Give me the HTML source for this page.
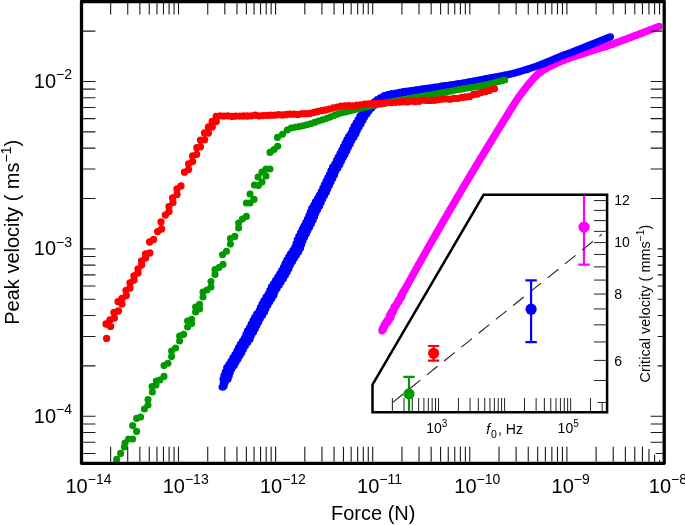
<!DOCTYPE html>
<html><head><meta charset="utf-8"><title>Peak velocity vs force</title>
<style>html,body{margin:0;padding:0;background:#fff;width:685px;height:525px;overflow:hidden}</style></head>
<body>
<svg width="685" height="525" viewBox="0 0 685 525" style="display:block;position:absolute;left:0;top:0" font-family="'Liberation Sans', Arial, Helvetica, sans-serif" fill="#000">
<rect width="685" height="525" fill="#fff"/>
<clipPath id="c"><rect x="81.5" y="1.5" width="582.7" height="461.8"/></clipPath>
<g clip-path="url(#c)">
<path d="M381.9 330.8h0M382.0 329.9h0M383.3 329.7h0M382.6 328.5h0M383.9 328.2h0M383.9 327.3h0M383.7 326.3h0M384.9 326.1h0M384.4 324.9h0M385.5 324.6h0M385.2 323.5h0M385.6 322.8h0M386.7 322.5h0M387.8 322.2h0M386.8 320.8h0M387.4 320.1h0M388.6 319.8h0M389.6 319.5h0M389.2 318.4h0M389.3 317.5h0M390.8 317.4h0M389.3 315.7h0M391.3 315.9h0M390.6 314.6h0M390.7 313.7h0M391.0 313.0h0M391.8 312.5h0M393.1 312.3h0M392.3 311.0h0M393.4 310.7h0M393.9 310.0h0M393.8 309.0h0M394.5 308.5h0M393.9 307.3h0M394.3 306.6h0M395.0 306.1h0M396.3 305.8h0M396.2 304.9h0M396.3 304.1h0M397.3 303.6h0M397.4 302.8h0M397.5 301.9h0M398.8 301.7h0M399.0 300.9h0M398.5 299.8h0M399.5 299.4h0M399.8 298.7h0M400.8 298.3h0M400.9 297.4h0M400.6 296.4h0M402.0 296.2h0M401.2 294.9h0M402.0 294.4h0M402.8 293.9h0M402.5 292.8h0M403.2 292.3h0M403.2 291.4h0M404.2 291.0h0M404.6 290.3h0M404.8 289.5h0M405.4 288.9h0M405.5 288.1h0M406.0 287.4h0M406.4 286.7h0M406.7 286.0h0M407.1 285.3h0M407.5 284.6h0M407.9 283.9h0M408.3 283.2h0M408.7 282.5h0M409.1 281.8h0M409.4 281.1h0M409.8 280.4h0M410.2 279.7h0M410.6 279.0h0M411.0 278.3h0M411.4 277.6h0M411.8 276.9h0M412.2 276.2h0M412.5 275.5h0M412.9 274.8h0M413.3 274.1h0M413.7 273.4h0M414.1 272.7h0M414.5 272.0h0M414.9 271.3h0M415.3 270.6h0M415.7 269.9h0M416.1 269.2h0M416.4 268.5h0M416.8 267.8h0M417.2 267.1h0M417.6 266.4h0M418.0 265.7h0M418.4 265.0h0M418.8 264.3h0M419.2 263.7h0M419.6 263.0h0M420.0 262.3h0M420.4 261.6h0M420.8 260.9h0M421.2 260.2h0M421.5 259.5h0M421.9 258.8h0M422.3 258.1h0M422.7 257.4h0M423.1 256.7h0M423.5 256.0h0M423.9 255.3h0M424.3 254.6h0M424.7 253.9h0M425.1 253.2h0M425.5 252.5h0M425.9 251.8h0M426.3 251.1h0M426.7 250.4h0M427.1 249.7h0M427.5 249.0h0M427.8 248.3h0M428.2 247.6h0M428.6 246.9h0M429.0 246.2h0M429.4 245.5h0M429.8 244.9h0M430.2 244.2h0M430.6 243.5h0M431.0 242.8h0M431.4 242.1h0M431.8 241.4h0M432.2 240.7h0M432.6 240.0h0M433.0 239.3h0M433.4 238.6h0M433.8 237.9h0M434.2 237.2h0M434.6 236.5h0M435.0 235.8h0M435.4 235.1h0M435.8 234.4h0M436.2 233.7h0M436.6 233.0h0M437.0 232.4h0M437.4 231.7h0M437.8 231.0h0M438.2 230.3h0M438.6 229.6h0M439.0 228.9h0M439.4 228.2h0M439.8 227.5h0M440.2 226.8h0M440.6 226.1h0M441.0 225.4h0M441.4 224.7h0M441.8 224.0h0M442.2 223.3h0M442.6 222.7h0M443.0 222.0h0M443.4 221.3h0M443.8 220.6h0M444.2 219.9h0M444.6 219.2h0M445.0 218.5h0M445.4 217.8h0M445.8 217.1h0M446.2 216.4h0M446.6 215.7h0M447.0 215.0h0M447.4 214.4h0M447.8 213.7h0M448.2 213.0h0M448.6 212.3h0M449.0 211.6h0M449.4 210.9h0M449.8 210.2h0M450.2 209.5h0M450.6 208.8h0M451.0 208.1h0M451.4 207.4h0M451.8 206.8h0M452.2 206.1h0M452.7 205.4h0M453.1 204.7h0M453.5 204.0h0M453.9 203.3h0M454.3 202.6h0M454.7 201.9h0M455.1 201.2h0M455.5 200.5h0M455.9 199.9h0M456.3 199.2h0M456.7 198.5h0M457.1 197.8h0M457.5 197.1h0M457.9 196.4h0M458.3 195.7h0M458.7 195.0h0M459.1 194.3h0M459.6 193.7h0M460.0 193.0h0M460.4 192.3h0M460.8 191.6h0M461.2 190.9h0M461.6 190.2h0M462.0 189.5h0M462.4 188.8h0M462.8 188.1h0M463.2 187.5h0M463.6 186.8h0M464.0 186.1h0M464.4 185.4h0M464.9 184.7h0M465.3 184.0h0M465.7 183.3h0M466.1 182.6h0M466.5 182.0h0M466.9 181.3h0M467.3 180.6h0M467.7 179.9h0M468.1 179.2h0M468.5 178.5h0M469.0 177.8h0M469.4 177.2h0M469.8 176.5h0M470.2 175.8h0M470.6 175.1h0M471.0 174.4h0M471.4 173.7h0M471.8 173.0h0M472.2 172.3h0M472.7 171.7h0M473.1 171.0h0M473.5 170.3h0M473.9 169.6h0M474.3 168.9h0M474.7 168.2h0M475.1 167.5h0M475.5 166.9h0M476.0 166.2h0M476.4 165.5h0M476.8 164.8h0M477.2 164.1h0M477.6 163.4h0M478.0 162.8h0M478.4 162.1h0M478.8 161.4h0M479.3 160.7h0M479.7 160.0h0M480.1 159.3h0M480.5 158.6h0M480.9 158.0h0M481.3 157.3h0M481.7 156.6h0M482.2 155.9h0M482.6 155.2h0M483.0 154.5h0M483.4 153.9h0M483.8 153.2h0M484.2 152.5h0M484.7 151.8h0M485.1 151.1h0M485.5 150.4h0M485.9 149.8h0M486.3 149.1h0M486.7 148.4h0M487.2 147.7h0M487.6 147.0h0M488.0 146.3h0M488.4 145.7h0M488.8 145.0h0M489.2 144.3h0M489.7 143.6h0M490.1 142.9h0M490.5 142.3h0M490.9 141.6h0M491.3 140.9h0M491.7 140.2h0M492.2 139.5h0M492.6 138.8h0M493.0 138.2h0M493.4 137.5h0M493.8 136.8h0M494.3 136.1h0M494.7 135.4h0M495.1 134.8h0M495.5 134.1h0M495.9 133.4h0M496.4 132.7h0M496.8 132.0h0M497.2 131.3h0M497.6 130.7h0M498.0 130.0h0M498.5 129.3h0M498.9 128.6h0M499.3 127.9h0M499.7 127.3h0M500.1 126.6h0M500.6 125.9h0M501.0 125.2h0M501.4 124.5h0M501.8 123.9h0M502.3 123.2h0M502.7 122.5h0M503.1 121.8h0M503.5 121.1h0M503.9 120.5h0M504.4 119.8h0M504.8 119.1h0M505.2 118.4h0M505.6 117.7h0M506.1 117.1h0M506.5 116.4h0M506.9 115.7h0M507.3 115.0h0M507.7 114.4h0M508.2 113.7h0M508.6 113.0h0M509.0 112.3h0M509.4 111.6h0M509.9 111.0h0M510.3 110.3h0M510.7 109.6h0M511.1 108.9h0M511.6 108.3h0M512.0 107.6h0M512.4 106.9h0M512.8 106.2h0M513.3 105.5h0M513.7 104.9h0M514.1 104.2h0M514.5 103.5h0M515.0 102.8h0M515.4 102.2h0M515.8 101.5h0M516.2 100.8h0M516.7 100.1h0M517.1 99.4h0M517.5 98.8h0M518.0 98.1h0M518.5 97.5h0M519.0 96.8h0M519.4 96.2h0M519.9 95.5h0M520.4 94.9h0M520.9 94.3h0M521.3 93.6h0M521.8 93.0h0M522.3 92.4h0M522.8 91.7h0M523.3 91.1h0M523.7 90.4h0M524.2 89.8h0M524.7 89.2h0M525.2 88.5h0M525.7 87.9h0M526.2 87.2h0M526.6 86.6h0M527.1 86.0h0M527.6 85.4h0M528.1 84.7h0M528.7 84.1h0M529.2 83.5h0M529.7 82.9h0M530.2 82.3h0M530.7 81.7h0M531.2 81.1h0M531.8 80.5h0M532.3 79.9h0M532.8 79.3h0M533.3 78.7h0M533.9 78.1h0M534.5 77.5h0M535.0 77.0h0M535.6 76.4h0M536.2 75.8h0M536.7 75.2h0M537.3 74.7h0M537.8 74.1h0M538.4 73.6h0M539.1 73.1h0M539.7 72.6h0M540.4 72.2h0M541.0 71.7h0M541.7 71.3h0M542.3 70.8h0M543.0 70.3h0M543.7 69.9h0M544.4 69.5h0M545.1 69.1h0M545.8 68.7h0M546.5 68.3h0M547.1 67.9h0M547.8 67.5h0M548.6 67.2h0M549.3 66.8h0M550.0 66.5h0M550.7 66.1h0M551.4 65.7h0M552.1 65.4h0M552.9 65.0h0M553.6 64.7h0M554.3 64.3h0M555.0 63.9h0M555.7 63.6h0M556.4 63.2h0M557.2 62.9h0M557.9 62.6h0M558.7 62.3h0M559.4 62.0h0M560.1 61.7h0M560.9 61.4h0M561.6 61.1h0M562.4 60.8h0M563.1 60.5h0M563.8 60.2h0M564.6 59.9h0M565.3 59.6h0M566.1 59.3h0M566.8 59.0h0M567.5 58.7h0M568.3 58.4h0M569.0 58.1h0M569.8 57.9h0M570.6 57.6h0M571.3 57.4h0M572.1 57.1h0M572.8 56.9h0M573.6 56.7h0M574.4 56.4h0M575.1 56.2h0M575.9 55.9h0M576.7 55.7h0M577.4 55.4h0M578.2 55.2h0M578.9 54.9h0M579.7 54.7h0M580.5 54.5h0M581.2 54.2h0M582.0 54.0h0M582.7 53.7h0M583.5 53.5h0M584.3 53.2h0M585.0 53.0h0M585.8 52.7h0M586.6 52.5h0M587.3 52.3h0M588.1 52.0h0M588.8 51.8h0M589.6 51.5h0M590.4 51.3h0M591.1 51.0h0M591.9 50.8h0M592.7 50.6h0M593.4 50.3h0M594.2 50.1h0M594.9 49.8h0M595.7 49.6h0M596.5 49.3h0M597.2 49.1h0M598.0 48.9h0M598.8 48.6h0M599.5 48.4h0M600.3 48.1h0M601.0 47.9h0M601.8 47.6h0M602.6 47.4h0M603.3 47.2h0M604.1 46.9h0M604.8 46.7h0M605.6 46.4h0M606.4 46.2h0M607.1 45.9h0M607.9 45.7h0M608.7 45.5h0M609.4 45.2h0M610.2 45.0h0M610.9 44.7h0M611.7 44.4h0M612.4 44.1h0M613.2 43.9h0M613.9 43.6h0M614.7 43.3h0M615.4 43.0h0M616.2 42.8h0M616.9 42.5h0M617.7 42.2h0M618.4 41.9h0M619.2 41.7h0M619.9 41.4h0M620.7 41.1h0M621.4 40.8h0M622.2 40.5h0M622.9 40.3h0M623.7 40.0h0M624.4 39.7h0M625.2 39.4h0M625.9 39.2h0M626.7 38.9h0M627.4 38.6h0M628.2 38.3h0M628.9 38.0h0M629.7 37.7h0M630.4 37.5h0M631.2 37.2h0M631.9 36.9h0M632.7 36.6h0M633.4 36.3h0M634.2 36.0h0M634.9 35.7h0M635.7 35.5h0M636.4 35.2h0M637.2 34.9h0M637.9 34.6h0M638.6 34.3h0M639.4 34.0h0M640.1 33.7h0M640.9 33.4h0M641.6 33.2h0M642.4 32.9h0M643.1 32.6h0M643.9 32.3h0M644.6 32.0h0M645.4 31.7h0M646.1 31.4h0M646.9 31.1h0M647.6 30.9h0M648.4 30.6h0M649.1 30.3h0M649.8 30.0h0M650.6 29.7h0M651.3 29.4h0M652.1 29.1h0M652.8 28.9h0M653.6 28.6h0M654.3 28.3h0M655.1 28.0h0M655.8 27.7h0M656.6 27.4h0M657.3 27.1h0M658.1 26.9h0M658.8 26.6h0M659.0 26.5h0" stroke="#ff00ff" stroke-width="7.30" stroke-linecap="round" fill="none"/>
<path d="M222.1 387.0h0M223.3 386.8h0M222.9 386.1h0M224.1 385.9h0M223.5 385.2h0M223.2 384.5h0M224.4 384.3h0M223.3 383.3h0M224.5 383.2h0M224.1 382.5h0M225.3 382.3h0M224.7 381.5h0M224.4 380.8h0M225.6 380.6h0M223.0 379.2h0M226.3 379.7h0M224.7 378.6h0M228.1 379.1h0M225.8 377.8h0M224.3 376.7h0M227.9 377.3h0M224.0 375.5h0M227.4 376.0h0M225.9 374.9h0M229.3 375.5h0M227.2 374.2h0M225.7 373.1h0M229.2 373.7h0M225.3 371.8h0M228.6 372.4h0M227.1 371.3h0M230.3 372.2h0M228.3 370.5h0M226.9 369.1h0M230.2 370.3h0M226.7 367.7h0M229.8 368.8h0M228.6 367.5h0M231.9 368.7h0M230.0 367.1h0M228.8 365.8h0M232.2 367.0h0M228.8 364.5h0M232.1 365.7h0M230.9 364.4h0M234.2 365.6h0M232.3 363.9h0M231.0 362.6h0M234.3 363.8h0M230.9 361.3h0M234.1 362.4h0M232.8 361.1h0M236.0 362.2h0M234.1 360.5h0M232.8 359.2h0M236.2 360.4h0M232.8 357.9h0M236.0 359.1h0M234.8 357.7h0M238.0 358.9h0M236.1 357.2h0M234.9 355.9h0M238.3 357.2h0M234.9 354.7h0M238.1 355.8h0M236.8 354.5h0M240.0 355.6h0M238.1 353.9h0M236.8 352.5h0M240.1 353.9h0M236.8 351.2h0M239.9 352.5h0M238.7 351.1h0M241.8 352.4h0M239.9 350.6h0M238.7 349.1h0M241.9 350.5h0M238.5 347.7h0M241.6 349.0h0M240.4 347.6h0M243.5 348.9h0M241.6 347.1h0M240.4 345.6h0M243.6 347.0h0M240.3 344.3h0M243.5 345.7h0M242.3 344.3h0M245.5 345.6h0M243.7 343.8h0M242.5 342.4h0M245.8 343.8h0M242.5 341.1h0M245.7 342.5h0M244.5 341.1h0M247.7 342.5h0M245.9 340.7h0M244.7 339.3h0M248.3 340.7h0M244.4 338.0h0M248.0 339.3h0M246.5 337.9h0M250.1 339.2h0M247.8 337.3h0M246.2 335.9h0M249.9 337.2h0M245.9 334.4h0M249.4 335.7h0M247.8 334.2h0M251.4 335.5h0M249.1 333.6h0M247.6 332.2h0M251.4 333.6h0M247.5 330.9h0M251.2 332.3h0M249.8 330.9h0M253.4 332.2h0M251.2 330.4h0M249.8 329.0h0M253.6 330.4h0M249.6 327.7h0M253.2 329.0h0M251.7 327.6h0M255.3 328.8h0M253.0 327.0h0M251.5 325.6h0M255.2 326.9h0M251.2 324.2h0M254.8 325.5h0M253.3 324.0h0M256.9 325.3h0M254.7 323.5h0M253.2 322.1h0M256.9 323.5h0M253.0 320.7h0M256.5 322.0h0M255.1 320.6h0M258.7 321.9h0M256.4 320.1h0M255.0 318.7h0M258.7 320.1h0M254.7 317.3h0M258.3 318.6h0M256.9 317.2h0M260.4 318.5h0M258.2 316.7h0M256.7 315.3h0M260.5 316.7h0M256.7 314.0h0M260.3 315.3h0M258.9 314.0h0M262.6 315.3h0M260.5 313.6h0M259.1 312.2h0M262.9 313.6h0M259.1 310.9h0M262.7 312.2h0M261.1 310.8h0M264.6 312.0h0M262.3 310.2h0M260.8 308.7h0M264.4 310.1h0M260.4 307.3h0M264.0 308.5h0M262.4 307.1h0M266.0 308.4h0M263.8 306.6h0M262.3 305.2h0M266.0 306.5h0M262.1 303.8h0M265.7 305.1h0M264.3 303.7h0M267.9 305.0h0M265.7 303.2h0M264.2 301.8h0M268.0 303.2h0M264.0 300.5h0M267.7 301.8h0M266.2 300.4h0M269.8 301.7h0M267.6 299.9h0M266.2 298.5h0M269.9 299.9h0M266.0 297.2h0M269.6 298.5h0M268.2 297.1h0M271.9 298.4h0M269.7 296.7h0M268.3 295.3h0M272.1 296.7h0M268.2 294.0h0M271.9 295.3h0M270.4 293.9h0M273.9 295.2h0M271.6 293.3h0M270.1 291.8h0M273.7 293.2h0M269.8 290.4h0M273.2 291.7h0M271.7 290.2h0M275.2 291.5h0M272.9 289.6h0M271.5 288.2h0M275.2 289.7h0M271.4 286.9h0M275.0 288.3h0M273.6 286.9h0M277.2 288.3h0M275.1 286.4h0M273.7 285.0h0M277.4 286.5h0M273.6 283.7h0M277.2 285.1h0M275.7 283.6h0M279.3 285.0h0M277.2 283.2h0M275.7 281.7h0M279.4 283.2h0M275.6 280.4h0M279.1 281.8h0M277.7 280.3h0M281.3 281.8h0M279.2 279.9h0M277.8 278.5h0M281.5 280.0h0M277.7 277.2h0M281.3 278.6h0M279.9 277.1h0M283.5 278.6h0M281.4 276.7h0M279.9 275.3h0M283.6 276.7h0M279.7 273.9h0M283.3 275.3h0M281.8 273.8h0M285.4 275.2h0M283.2 273.3h0M281.8 271.9h0M285.4 273.3h0M281.6 270.5h0M285.1 271.9h0M283.7 270.5h0M287.3 271.8h0M285.1 270.0h0M283.7 268.5h0M287.4 270.0h0M283.5 267.2h0M287.0 268.5h0M285.5 267.1h0M289.0 268.4h0M286.8 266.5h0M285.3 265.0h0M288.9 266.5h0M285.0 263.6h0M288.5 264.9h0M287.0 263.4h0M290.5 264.8h0M288.4 263.0h0M286.9 261.5h0M290.6 263.0h0M286.8 260.2h0M290.4 261.6h0M288.9 260.1h0M292.5 261.5h0M290.4 259.7h0M288.9 258.2h0M292.6 259.7h0M288.7 256.9h0M292.3 258.2h0M290.9 256.8h0M294.4 258.2h0M292.2 256.3h0M290.8 254.9h0M294.5 256.3h0M290.6 253.5h0M294.2 254.9h0M292.9 253.5h0M296.5 254.9h0M294.4 253.1h0M293.0 251.7h0M296.7 253.2h0M292.9 250.4h0M296.6 251.8h0M295.2 250.4h0M298.7 251.8h0M296.6 249.9h0M295.1 248.6h0M298.8 249.7h0M294.8 247.2h0M298.4 248.3h0M296.9 247.0h0M300.6 248.1h0M298.3 246.4h0M296.6 245.1h0M300.3 246.2h0M296.1 243.6h0M299.7 244.7h0M298.1 243.3h0M301.6 244.4h0M299.2 242.6h0M297.6 241.2h0M301.3 242.4h0M297.2 239.9h0M300.9 241.0h0M299.3 239.6h0M303.0 240.7h0M300.7 239.1h0M299.1 237.7h0M302.9 238.9h0M298.8 236.4h0M302.5 237.5h0M301.0 236.2h0M304.6 237.3h0M302.3 235.6h0M300.8 234.3h0M304.6 235.4h0M300.5 232.9h0M304.2 234.0h0M302.6 232.7h0M306.3 233.8h0M304.0 232.1h0M302.5 230.8h0M306.3 231.9h0M302.2 229.4h0M305.8 230.5h0M304.3 229.2h0M307.9 230.3h0M305.6 228.6h0M304.1 227.3h0M307.9 228.5h0M303.9 226.0h0M307.5 227.1h0M306.0 225.8h0M309.7 226.9h0M307.4 225.2h0M305.9 223.9h0M309.7 225.1h0M305.7 222.6h0M309.4 223.7h0M307.8 222.4h0M311.5 223.5h0M309.2 221.8h0M307.7 220.5h0M311.5 221.6h0M307.4 219.1h0M311.1 220.2h0M309.6 218.9h0M313.2 220.0h0M310.9 218.3h0M309.3 217.0h0M313.0 218.1h0M308.9 215.6h0M312.5 216.7h0M310.9 215.3h0M314.6 216.4h0M312.2 214.7h0M310.6 213.4h0M314.4 214.5h0M310.3 212.0h0M313.9 213.1h0M312.3 211.7h0M316.0 212.8h0M313.6 211.1h0M312.1 209.8h0M315.8 210.9h0M311.7 208.4h0M315.4 209.5h0M314.0 208.2h0M317.7 209.4h0M315.4 207.7h0M313.9 206.4h0M317.8 207.6h0M313.8 205.1h0M317.4 206.2h0M316.0 204.9h0M319.6 206.0h0M317.3 204.3h0M315.8 203.0h0M319.5 204.2h0M315.5 201.6h0M319.1 202.8h0M317.6 201.4h0M321.2 202.5h0M318.9 200.8h0M317.4 199.5h0M321.0 200.6h0M317.6 198.3h0M320.7 199.3h0M319.5 198.1h0M322.7 199.0h0M320.8 197.4h0M319.5 196.2h0M322.8 197.2h0M319.4 195.0h0M322.6 195.9h0M321.3 194.7h0M324.5 195.6h0M322.7 194.1h0M321.4 192.9h0M324.7 193.9h0M321.3 191.6h0M324.5 192.5h0M323.2 191.3h0M326.4 192.2h0M324.4 190.7h0M323.1 189.4h0M326.3 190.4h0M322.9 188.1h0M326.0 189.0h0M324.7 187.7h0M327.8 188.7h0M325.9 187.1h0M324.6 185.9h0M327.9 186.8h0M324.4 184.5h0M327.6 185.5h0M326.3 184.2h0M329.4 185.2h0M327.5 183.6h0M326.2 182.3h0M329.5 183.3h0M326.1 181.1h0M329.2 182.0h0M328.0 180.8h0M331.1 181.7h0M329.2 180.2h0M328.0 178.9h0M331.2 179.9h0M327.8 177.6h0M331.0 178.6h0M329.7 177.3h0M332.9 178.3h0M331.0 176.7h0M329.7 175.5h0M333.0 176.5h0M329.6 174.2h0M332.7 175.1h0M331.5 173.9h0M334.6 174.8h0M332.6 173.2h0M331.3 172.0h0M334.5 172.9h0M331.0 170.6h0M334.1 171.5h0M332.7 170.2h0M335.8 171.1h0M333.9 169.6h0M332.6 168.3h0M336.0 169.4h0M332.6 167.1h0M335.9 168.1h0M334.7 166.9h0M337.9 167.9h0M336.1 166.4h0M334.9 165.2h0M338.3 166.2h0M334.9 163.9h0M338.0 164.9h0M336.7 163.6h0M339.9 164.6h0M338.0 163.0h0M336.7 161.8h0M339.9 162.7h0M336.5 160.4h0M339.6 161.4h0M338.4 160.1h0M341.5 161.1h0M339.6 159.5h0M338.4 158.3h0M341.6 159.3h0M338.2 157.0h0M341.4 157.9h0M340.1 156.7h0M343.3 157.6h0M341.4 156.1h0M340.2 154.8h0M343.4 156.0h0M340.0 153.5h0M343.1 154.6h0M341.9 153.3h0M345.0 154.4h0M343.2 152.7h0M342.0 151.4h0M345.2 152.5h0M341.8 150.1h0M344.9 151.1h0M343.6 149.8h0M346.7 150.9h0M344.8 149.2h0M343.6 147.9h0M346.7 149.0h0M343.4 146.5h0M346.4 147.6h0M345.2 146.3h0M348.3 147.4h0M346.5 145.8h0M345.3 144.5h0M348.5 145.6h0M345.2 143.2h0M348.3 144.2h0M347.1 142.9h0M350.2 144.0h0M348.3 142.4h0M347.1 141.1h0M350.3 142.2h0M346.9 139.7h0M350.0 140.8h0M348.8 139.5h0M351.9 140.5h0M350.0 138.9h0M348.8 137.6h0M352.0 138.7h0M348.7 136.3h0M351.9 137.4h0M350.8 136.2h0M353.9 137.3h0M352.1 135.7h0M351.0 134.4h0M354.2 135.6h0M351.0 133.2h0M354.0 134.2h0M352.8 132.9h0M355.8 133.9h0M353.9 132.3h0M352.7 130.9h0M355.8 132.0h0M352.5 129.6h0M355.5 130.6h0M354.2 129.3h0M357.3 130.4h0M355.5 128.7h0M354.3 127.4h0M357.5 128.6h0M354.2 126.1h0M357.3 127.2h0M356.1 125.9h0M359.2 127.0h0M357.3 125.4h0M356.2 124.1h0M359.4 125.2h0M356.1 122.8h0M359.2 123.9h0M358.0 122.6h0M361.1 123.7h0M359.3 122.0h0M358.1 120.8h0M361.3 121.9h0M358.1 119.5h0M361.1 120.5h0M360.0 119.3h0M363.0 120.3h0M361.2 118.7h0M360.1 117.4h0M363.1 118.5h0M360.0 116.2h0M362.9 117.1h0M361.9 115.9h0M364.7 116.9h0M363.1 115.3h0M362.3 113.9h0M364.9 115.4h0M362.6 112.7h0M365.1 114.1h0M364.4 112.7h0M366.8 114.1h0M365.6 112.4h0M364.9 111.1h0M367.3 112.4h0M365.2 109.9h0M367.5 111.1h0M366.8 109.8h0M369.0 110.9h0M368.0 109.3h0M367.6 108.1h0M369.7 109.4h0M368.1 107.0h0M370.0 108.2h0M369.6 107.0h0M371.5 108.2h0M370.8 106.7h0M370.5 105.5h0M372.3 106.7h0M371.0 104.5h0M372.8 105.5h0M372.5 104.4h0M374.2 105.4h0M373.6 104.1h0M373.4 103.0h0M375.1 104.0h0M374.1 102.0h0M375.6 103.0h0M375.5 102.0h0M377.0 102.8h0M376.6 101.6h0M376.5 100.6h0M378.0 101.5h0M377.2 99.7h0M378.5 100.4h0M378.5 99.6h0M379.8 100.2h0M379.6 99.1h0M379.8 98.3h0M380.9 99.1h0M380.6 97.5h0M381.7 98.3h0M381.9 97.5h0M382.9 98.3h0M383.0 97.3h0M383.2 96.5h0M384.3 97.3h0M384.2 95.7h0M385.1 96.6h0M385.4 95.9h0M386.3 96.8h0M386.5 95.8h0M386.9 95.1h0M387.8 96.0h0M387.8 94.5h0M388.7 95.3h0M389.1 94.7h0M389.9 95.6h0M390.3 94.7h0M390.7 94.1h0M391.5 95.1h0M391.7 93.7h0M392.5 94.6h0M392.9 94.0h0M393.7 94.9h0M394.0 94.1h0M394.5 93.5h0M395.2 94.4h0M395.5 93.1h0M396.3 93.9h0M396.7 93.3h0M397.4 94.2h0M397.8 93.4h0M398.3 92.8h0M399.0 93.6h0M399.3 92.3h0M400.0 93.2h0M400.5 92.6h0M401.2 93.4h0M401.6 92.6h0M402.1 92.0h0M402.8 92.9h0M403.1 91.7h0M403.8 92.4h0M404.3 91.9h0M405.0 92.7h0M405.4 92.0h0M405.9 91.4h0M406.6 92.2h0M406.9 91.1h0M407.6 91.9h0M408.1 91.3h0M408.8 92.1h0M409.2 91.4h0M409.7 90.9h0M410.4 91.6h0M410.7 90.6h0M411.4 91.3h0M411.9 90.8h0M412.6 91.5h0M413.0 90.8h0M413.5 90.3h0M414.2 91.0h0M414.6 90.0h0M415.2 90.7h0M415.7 90.2h0M416.4 90.8h0M416.8 90.2h0M417.3 89.8h0M418.0 90.4h0M418.4 89.5h0M419.0 90.1h0M419.5 89.6h0M420.2 90.2h0M420.6 89.6h0M421.1 89.2h0M421.8 89.8h0M422.2 88.9h0M422.8 89.4h0M423.3 89.0h0M423.9 89.5h0M424.4 89.0h0M424.9 88.6h0M425.6 89.2h0M426.0 88.4h0M426.6 88.9h0M427.1 88.5h0M427.8 89.0h0M428.2 88.5h0M428.7 88.2h0M429.4 88.7h0M429.8 87.9h0M430.4 88.3h0M430.9 88.0h0M431.6 88.4h0M432.1 88.0h0M432.6 87.6h0M433.2 88.1h0M433.6 87.4h0M434.2 87.8h0M434.8 87.4h0M435.4 87.8h0M435.9 87.4h0M436.4 87.0h0M437.0 87.4h0M437.4 86.8h0M438.0 87.1h0M438.6 86.8h0M439.2 87.1h0M439.7 86.7h0M440.2 86.5h0M440.8 86.8h0M441.2 86.2h0M441.8 86.5h0M442.4 86.2h0M443.0 86.5h0M443.5 86.2h0M444.0 85.9h0M444.6 86.2h0M445.1 85.7h0M445.6 85.9h0M446.2 85.7h0M446.8 85.9h0M447.3 85.6h0M447.8 85.3h0M448.4 85.6h0M448.9 85.1h0M449.5 85.3h0M450.0 85.1h0M450.6 85.3h0M451.1 85.0h0M451.6 84.8h0M452.2 85.0h0M452.7 84.6h0M453.3 84.7h0M453.8 84.5h0M454.4 84.7h0M454.9 84.4h0M455.4 84.3h0M456.0 84.4h0M456.5 84.1h0M457.1 84.2h0M457.6 84.0h0M458.2 84.1h0M458.7 83.9h0M459.2 83.7h0M459.8 83.8h0M460.3 83.5h0M460.9 83.6h0M461.4 83.4h0M462.0 83.4h0M462.5 83.2h0M463.0 83.1h0M463.6 83.1h0M464.1 82.9h0M464.6 82.8h0M465.2 82.7h0M465.7 82.7h0M466.3 82.5h0M466.8 82.4h0M467.4 82.3h0M467.9 82.2h0M468.4 82.1h0M469.0 82.0h0M469.5 81.9h0M470.1 81.8h0M470.6 81.7h0M471.1 81.6h0M471.7 81.5h0M472.2 81.4h0M472.8 81.3h0M473.3 81.2h0M473.8 81.1h0M474.4 81.0h0M474.9 80.9h0M475.5 80.8h0M476.0 80.7h0M476.5 80.6h0M477.1 80.5h0M477.6 80.4h0M478.2 80.3h0M478.7 80.2h0M479.2 80.1h0M479.8 80.0h0M480.3 79.9h0M480.9 79.8h0M481.4 79.7h0M481.9 79.6h0M482.5 79.5h0M483.0 79.4h0M483.6 79.3h0M484.1 79.2h0M484.6 79.1h0M485.2 79.0h0M485.7 78.8h0M486.3 78.7h0M486.8 78.6h0M487.3 78.5h0M487.9 78.4h0M488.4 78.3h0M489.0 78.2h0M489.5 78.1h0M490.0 78.0h0M490.6 77.9h0M491.1 77.8h0M491.7 77.7h0M492.2 77.6h0M492.8 77.5h0M493.3 77.4h0M493.8 77.3h0M494.4 77.2h0M494.9 77.1h0M495.5 77.0h0M496.0 76.9h0M496.5 76.8h0M497.1 76.7h0M497.6 76.6h0M498.2 76.5h0M498.7 76.4h0M499.2 76.3h0M499.8 76.2h0M500.3 76.1h0M500.9 76.0h0M501.4 75.9h0M501.9 75.8h0M502.5 75.7h0M503.0 75.6h0M503.6 75.4h0M504.1 75.3h0M504.6 75.2h0M505.2 75.1h0M505.7 75.0h0M506.3 74.9h0M506.8 74.8h0M507.3 74.7h0M507.9 74.6h0M508.4 74.5h0M509.0 74.4h0M509.5 74.3h0M510.0 74.2h0M510.6 74.1h0M511.1 73.9h0M511.6 73.8h0M512.2 73.6h0M512.7 73.5h0M513.2 73.4h0M513.8 73.2h0M514.3 73.1h0M514.8 72.9h0M515.4 72.8h0M515.9 72.7h0M516.4 72.5h0M516.9 72.4h0M517.5 72.2h0M518.0 72.1h0M518.5 72.0h0M519.1 71.8h0M519.6 71.7h0M520.1 71.5h0M520.7 71.3h0M521.2 71.2h0M521.7 71.0h0M522.2 70.8h0M522.8 70.7h0M523.3 70.5h0M523.8 70.3h0M524.3 70.2h0M524.9 70.0h0M525.4 69.9h0M525.9 69.7h0M526.4 69.5h0M527.0 69.4h0M527.5 69.2h0M528.0 69.0h0M528.5 68.9h0M529.0 68.7h0M529.6 68.5h0M530.1 68.3h0M530.6 68.2h0M531.1 68.0h0M531.7 67.8h0M532.2 67.7h0M532.7 67.5h0M533.2 67.3h0M533.7 67.1h0M534.3 67.0h0M534.8 66.8h0M535.3 66.6h0M535.8 66.5h0M536.4 66.3h0M536.9 66.1h0M537.4 65.9h0M537.9 65.7h0M538.4 65.5h0M538.9 65.3h0M539.4 65.1h0M539.9 64.9h0M540.5 64.7h0M541.0 64.5h0M541.5 64.3h0M542.0 64.1h0M542.5 63.9h0M543.0 63.7h0M543.5 63.5h0M544.0 63.3h0M544.6 63.1h0M545.1 62.9h0M545.6 62.7h0M546.1 62.5h0M546.6 62.2h0M547.1 62.0h0M547.6 61.8h0M548.1 61.6h0M548.6 61.4h0M549.1 61.2h0M549.6 61.0h0M550.2 60.8h0M550.7 60.6h0M551.2 60.4h0M551.7 60.2h0M552.2 60.0h0M552.7 59.7h0M553.2 59.5h0M553.7 59.3h0M554.2 59.1h0M554.7 58.9h0M555.2 58.7h0M555.7 58.5h0M556.2 58.2h0M556.7 58.0h0M557.2 57.8h0M557.8 57.6h0M558.3 57.4h0M558.8 57.1h0M559.3 56.9h0M559.8 56.7h0M560.3 56.5h0M560.8 56.3h0M561.3 56.0h0M561.8 55.8h0M562.3 55.6h0M562.8 55.4h0M563.3 55.2h0M563.8 55.0h0M564.4 54.9h0M564.9 54.7h0M565.4 54.5h0M565.9 54.3h0M566.4 54.1h0M567.0 54.0h0M567.5 53.8h0M568.0 53.6h0M568.5 53.4h0M569.0 53.2h0M569.6 53.1h0M570.1 52.9h0M570.6 52.7h0M571.1 52.5h0M571.6 52.3h0M572.1 52.1h0M572.6 51.9h0M573.1 51.6h0M573.7 51.4h0M574.2 51.2h0M574.7 51.0h0M575.2 50.8h0M575.7 50.6h0M576.2 50.4h0M576.7 50.2h0M577.2 50.0h0M577.7 49.8h0M578.3 49.6h0M578.8 49.4h0M579.3 49.2h0M579.8 49.0h0M580.3 48.8h0M580.8 48.6h0M581.3 48.4h0M581.8 48.2h0M582.3 48.0h0M582.8 47.8h0M583.4 47.6h0M583.9 47.4h0M584.4 47.2h0M584.9 47.0h0M585.4 46.8h0M585.9 46.6h0M586.4 46.4h0M586.9 46.2h0M587.4 45.9h0M588.0 45.7h0M588.5 45.5h0M589.0 45.3h0M589.5 45.1h0M590.0 44.9h0M590.5 44.7h0M591.0 44.5h0M591.5 44.3h0M592.0 44.1h0M592.6 43.9h0M593.1 43.7h0M593.6 43.5h0M594.1 43.3h0M594.6 43.1h0M595.1 42.9h0M595.6 42.7h0M596.1 42.5h0M596.6 42.3h0M597.2 42.1h0M597.7 41.9h0M598.2 41.7h0M598.7 41.5h0M599.2 41.3h0M599.7 41.1h0M600.2 40.9h0M600.7 40.7h0M601.2 40.4h0M601.8 40.2h0M602.3 40.0h0M602.8 39.8h0M603.3 39.6h0M603.8 39.4h0M604.3 39.2h0M604.8 39.0h0M605.3 38.8h0M605.8 38.6h0M606.4 38.4h0M606.9 38.2h0M607.4 38.0h0M607.9 37.8h0M608.4 37.6h0M608.9 37.4h0M609.4 37.2h0M609.9 37.0h0M610.4 36.8h0M222.7 387.2h0" stroke="#0000ff" stroke-width="7.20" stroke-linecap="round" fill="none"/>
<path d="M116.6 459.4h0M120.6 453.4h0M124.4 447.0h0M125.0 443.0h0M128.6 439.0h0M132.6 439.0h0M136.6 431.4h0M132.6 425.6h0M136.6 418.4h0M140.6 417.0h0M144.4 409.0h0M148.0 405.0h0M148.0 399.6h0M152.4 392.0h0M152.0 386.6h0M156.0 385.0h0M156.4 381.0h0M160.0 380.0h0M164.0 376.4h0M164.0 365.6h0M168.0 363.2h0M171.6 356.6h0M171.6 351.0h0M175.6 348.0h0M179.6 341.0h0M179.6 336.0h0M183.6 334.4h0M187.6 327.0h0M187.6 321.0h0M191.6 319.4h0M191.6 323.6h0M195.6 312.0h0M195.6 307.0h0M199.6 304.4h0M199.6 309.0h0M203.0 297.0h0M203.0 292.0h0M207.0 290.0h0M211.0 287.0h0M211.0 281.6h0M215.0 274.4h0M215.0 269.6h0M219.0 267.6h0M223.0 264.4h0M222.5 254.8h0M226.5 251.3h0M230.4 244.1h0M230.4 238.6h0M234.8 236.4h0M238.6 228.0h0M238.6 223.0h0M242.4 219.0h0M246.4 216.4h0M246.4 203.0h0M250.0 203.0h0M254.0 199.4h0M250.0 194.0h0M254.4 185.0h0M258.4 185.6h0M262.0 182.0h0M258.0 177.0h0M262.0 172.0h0M266.0 176.0h0M266.0 169.0h0M270.0 169.0h0M270.0 152.4h0M274.0 149.6h0M277.7 146.2h0M277.5 137.4h0M282.5 134.3h0M287.3 130.0h0M291.2 128.0h0M295.1 127.2h0M299.0 126.6h0M302.9 125.8h0M306.8 124.8h0M310.7 123.8h0M314.6 122.4h0M318.5 121.0h0M322.4 119.8h0M326.3 118.5h0M330.2 117.1h0M334.1 115.6h0M338.0 114.1h0M341.9 112.8h0M345.8 111.9h0M349.7 111.0h0M353.6 110.0h0M357.5 109.1h0M361.4 108.2h0M365.3 107.3h0M369.2 106.4h0M373.1 105.4h0M377.0 104.6h0M380.9 103.9h0M384.8 103.1h0M388.7 102.4h0M392.6 101.6h0M396.5 100.9h0M400.4 100.1h0M404.3 99.5h0M408.2 98.8h0M412.1 98.1h0M416.0 97.4h0M419.9 96.8h0M423.8 96.1h0M427.7 95.4h0M431.6 94.7h0M435.5 94.0h0M439.4 93.2h0M443.3 92.5h0M447.2 91.8h0M451.1 91.1h0M455.0 90.3h0M458.9 89.6h0M462.8 88.9h0M466.7 88.3h0M470.6 87.6h0M474.5 87.0h0M478.4 86.3h0M482.3 85.6h0M486.2 84.8h0M490.1 83.8h0M494.0 82.8h0M497.9 81.8h0M501.8 80.7h0M504.7 80.0h0" stroke="#009900" stroke-width="7.10" stroke-linecap="round" fill="none"/>
<path d="M106.6 338.4h0M106.0 324.0h0M110.6 326.4h0M110.0 320.0h0M114.4 318.0h0M114.0 312.4h0M118.4 311.0h0M118.0 301.6h0M122.0 304.0h0M122.0 298.4h0M126.4 295.6h0M126.0 290.4h0M130.0 288.0h0M130.0 283.0h0M134.0 280.0h0M134.0 276.0h0M138.0 273.0h0M138.0 269.0h0M141.6 265.0h0M141.6 261.0h0M145.6 258.0h0M145.6 254.0h0M149.8 253.0h0M149.6 242.0h0M153.6 239.5h0M157.6 231.6h0M161.6 229.0h0M161.0 222.0h0M165.4 215.0h0M169.0 211.6h0M169.0 206.6h0M173.0 202.4h0M172.6 198.0h0M177.0 194.4h0M177.0 189.0h0M181.0 186.0h0M184.5 172.2h0M188.6 169.6h0M188.6 164.0h0M192.6 161.6h0M192.6 156.0h0M196.7 154.3h0M196.8 147.7h0M200.5 146.8h0M200.5 140.2h0M204.6 139.8h0M204.5 133.0h0M208.4 133.0h0M208.4 126.9h0M212.3 126.9h0M212.2 121.5h0M216.2 121.5h0M216.2 116.4h0M220.1 115.9h0M224.0 116.1h0M227.9 115.8h0M231.8 116.5h0M235.7 116.1h0M239.6 116.1h0M243.5 116.0h0M247.4 116.0h0M251.3 115.8h0M255.2 115.2h0M259.1 115.8h0M263.0 115.6h0M266.9 115.3h0M270.8 115.2h0M274.7 115.2h0M278.6 114.6h0M282.5 115.0h0M286.4 114.5h0M290.3 114.2h0M294.2 114.2h0M298.1 114.5h0M302.0 113.7h0M305.9 113.7h0M309.8 113.5h0M313.7 112.4h0M317.6 111.5h0M321.5 110.7h0M325.4 110.0h0M329.3 109.1h0M333.2 108.0h0M337.1 107.1h0M341.0 106.2h0M344.9 106.0h0M348.8 105.7h0M352.7 105.8h0M356.6 105.1h0M360.5 105.0h0M364.4 104.2h0M368.3 103.9h0M372.2 103.7h0M376.1 103.8h0M380.0 103.5h0M383.9 103.2h0M387.8 102.6h0M391.7 102.6h0M395.6 102.3h0M399.5 102.0h0M403.4 101.5h0M407.3 101.9h0M411.2 101.1h0M415.1 101.5h0M419.0 101.3h0M422.9 100.2h0M426.8 100.4h0M430.7 100.4h0M434.6 100.3h0M438.5 99.6h0M442.4 99.1h0M446.3 98.8h0M450.2 99.2h0M454.1 98.3h0M458.0 98.3h0M461.9 97.4h0M465.8 97.0h0M469.7 96.4h0M473.6 94.5h0M477.5 94.0h0M481.4 92.5h0M485.3 91.7h0M489.2 90.4h0M493.1 88.8h0M494.4 88.7h0" stroke="#ff0000" stroke-width="7.30" stroke-linecap="round" fill="none"/>
</g>
<path d="M110.63 461.7V446.7M110.63 3.1V14.4M127.73 461.7V446.7M127.73 3.1V14.4M139.86 461.7V446.7M139.86 3.1V14.4M149.27 461.7V446.7M149.27 3.1V14.4M156.96 461.7V446.7M156.96 3.1V14.4M163.46 461.7V446.7M163.46 3.1V14.4M169.09 461.7V446.7M169.09 3.1V14.4M174.06 461.7V446.7M174.06 3.1V14.4M178.50 461.7V446.7M178.50 3.1V14.4M207.73 461.7V446.7M207.73 3.1V14.4M224.83 461.7V446.7M224.83 3.1V14.4M236.96 461.7V446.7M236.96 3.1V14.4M246.37 461.7V446.7M246.37 3.1V14.4M254.06 461.7V446.7M254.06 3.1V14.4M260.56 461.7V446.7M260.56 3.1V14.4M266.19 461.7V446.7M266.19 3.1V14.4M271.16 461.7V446.7M271.16 3.1V14.4M275.60 461.7V446.7M275.60 3.1V14.4M304.83 461.7V446.7M304.83 3.1V14.4M321.93 461.7V446.7M321.93 3.1V14.4M334.06 461.7V446.7M334.06 3.1V14.4M343.47 461.7V446.7M343.47 3.1V14.4M351.16 461.7V446.7M351.16 3.1V14.4M357.66 461.7V446.7M357.66 3.1V14.4M363.29 461.7V446.7M363.29 3.1V14.4M368.26 461.7V446.7M368.26 3.1V14.4M372.70 461.7V446.7M372.70 3.1V14.4M401.93 461.7V446.7M401.93 3.1V14.4M419.03 461.7V446.7M419.03 3.1V14.4M431.16 461.7V446.7M431.16 3.1V14.4M440.57 461.7V446.7M440.57 3.1V14.4M448.26 461.7V446.7M448.26 3.1V14.4M454.76 461.7V446.7M454.76 3.1V14.4M460.39 461.7V446.7M460.39 3.1V14.4M465.36 461.7V446.7M465.36 3.1V14.4M469.80 461.7V446.7M469.80 3.1V14.4M499.03 461.7V446.7M499.03 3.1V14.4M516.13 461.7V446.7M516.13 3.1V14.4M528.26 461.7V446.7M528.26 3.1V14.4M537.67 461.7V446.7M537.67 3.1V14.4M545.36 461.7V446.7M545.36 3.1V14.4M551.86 461.7V446.7M551.86 3.1V14.4M557.49 461.7V446.7M557.49 3.1V14.4M562.46 461.7V446.7M562.46 3.1V14.4M566.90 461.7V446.7M566.90 3.1V14.4M596.13 461.7V446.7M596.13 3.1V14.4M613.23 461.7V446.7M613.23 3.1V14.4M625.36 461.7V446.7M625.36 3.1V14.4M634.77 461.7V446.7M634.77 3.1V14.4M642.46 461.7V446.7M642.46 3.1V14.4M648.96 461.7V449.0M648.96 3.1V14.4M654.59 461.7V454.8M654.59 3.1V14.4M659.56 461.7V460.0M659.56 3.1V14.4M83.1 453.44H95.4M662.6 453.44H655.6M83.1 442.23H95.4M662.6 442.23H650.6M83.1 432.52H95.4M662.6 432.52H650.6M83.1 423.96H95.4M662.6 423.96H650.6M83.1 416.30H95.4M662.6 416.30H650.6M83.1 365.91H95.4M662.6 365.91H650.6M83.1 336.43H95.4M662.6 336.43H650.6M83.1 315.52H95.4M662.6 315.52H650.6M83.1 299.29H95.4M662.6 299.29H650.6M83.1 286.04H95.4M662.6 286.04H650.6M83.1 274.83H95.4M662.6 274.83H650.6M83.1 265.12H95.4M662.6 265.12H650.6M83.1 256.56H95.4M662.6 256.56H650.6M83.1 248.90H95.4M662.6 248.90H650.6M83.1 198.51H95.4M662.6 198.51H650.6M83.1 169.03H95.4M662.6 169.03H650.6M83.1 148.12H95.4M662.6 148.12H650.6M83.1 131.89H95.4M662.6 131.89H650.6M83.1 118.64H95.4M662.6 118.64H650.6M83.1 107.43H95.4M662.6 107.43H650.6M83.1 97.72H95.4M662.6 97.72H650.6M83.1 89.16H95.4M662.6 89.16H650.6M83.1 81.50H95.4M662.6 81.50H650.6M83.1 31.11H95.4M662.6 31.11H650.6" stroke="#1a1a1a" stroke-width="1.1" fill="none"/>
<rect x="630" y="222" width="27.6" height="163" fill="#fff"/>
<rect x="81.5" y="1.5" width="582.7" height="461.8" fill="none" stroke="#000" stroke-width="3.3" stroke-linejoin="round"/>
<clipPath id="ci"><polygon points="372.5,384.6 483.6,194.8 607.1,194.8 607.1,412.2 372.5,412.2"/></clipPath>
<g clip-path="url(#ci)">
<path d="M392.38 411.0V398.0M404.01 411.0V398.0M412.27 411.0V398.0M418.67 411.0V398.0M423.90 411.0V398.0M428.32 411.0V398.0M432.15 411.0V398.0M435.53 411.0V398.0M438.55 411.0V398.0M458.43 411.0V398.0M470.06 411.0V398.0M478.32 411.0V398.0M484.72 411.0V398.0M489.95 411.0V398.0M494.37 411.0V398.0M498.20 411.0V398.0M501.58 411.0V398.0M504.60 411.0V398.0M524.48 411.0V398.0M536.11 411.0V398.0M544.37 411.0V398.0M550.77 411.0V398.0M556.00 411.0V398.0M560.42 411.0V398.0M564.25 411.0V398.0M567.63 411.0V398.0M570.65 411.0V398.0M590.53 411.0V398.0M602.16 411.0V403.2M605.9 402.45H597.6M605.9 380.47H593.9M605.9 360.40H593.9M605.9 341.94H593.9M605.9 324.85H593.9M605.9 308.94H593.9M605.9 294.06H593.9M605.9 280.08H593.9M605.9 266.90H593.9M605.9 254.43H593.9M605.9 242.60H593.9M605.9 231.35H593.9M605.9 220.62H593.9M605.9 210.37H593.9M605.9 200.55H593.9" stroke="#222" stroke-width="1" fill="none"/>
<path d="M409.0 376.8V425.0M403.3 376.8h11.4M403.3 425.0h11.4" stroke="#009900" stroke-width="2.2" fill="none"/>
<path d="M433.6 346.0V360.6M427.9 346.0h11.4M427.9 360.6h11.4" stroke="#ff0000" stroke-width="2.2" fill="none"/>
<path d="M531.1 280.4V342.1M525.4 280.4h11.4M525.4 342.1h11.4" stroke="#0000ff" stroke-width="2.2" fill="none"/>
<path d="M584.0 170.0V264.6M578.3 170.0h11.4M578.3 264.6h11.4" stroke="#ff00ff" stroke-width="2.2" fill="none"/>
<path d="M392.4 402.6L602 234.1" stroke="#222" stroke-width="1.1" stroke-dasharray="13.7 8.43" fill="none"/>
<circle cx="409.0" cy="393.9" r="5.6" fill="#009900"/>
<circle cx="433.6" cy="353.3" r="5.6" fill="#ff0000"/>
<circle cx="531.1" cy="309.2" r="5.6" fill="#0000ff"/>
<circle cx="584.0" cy="227.0" r="5.6" fill="#ff00ff"/>
</g>
<polygon points="372.5,384.6 483.6,194.8 607.1,194.8 607.1,412.2 372.5,412.2" fill="none" stroke="#000" stroke-width="2.5" stroke-linejoin="miter"/>
<text x="33.8" y="87.7" font-size="20">10<tspan dy="-8.6" font-size="14">−2</tspan></text>
<text x="33.8" y="255.1" font-size="20">10<tspan dy="-8.6" font-size="14">−3</tspan></text>
<text x="33.8" y="422.5" font-size="20">10<tspan dy="-8.6" font-size="14">−4</tspan></text>
<text x="65.5" y="493.1" font-size="20">10<tspan dy="-9.0" font-size="14">−14</tspan></text>
<text x="162.7" y="493.1" font-size="20">10<tspan dy="-9.0" font-size="14">−13</tspan></text>
<text x="259.9" y="493.1" font-size="20">10<tspan dy="-9.0" font-size="14">−12</tspan></text>
<text x="357.1" y="493.1" font-size="20">10<tspan dy="-9.0" font-size="14">−11</tspan></text>
<text x="454.3" y="493.1" font-size="20">10<tspan dy="-9.0" font-size="14">−10</tspan></text>
<text x="551.6" y="493.1" font-size="20">10<tspan dy="-9.0" font-size="14">−9</tspan></text>
<text x="648.8" y="493.1" font-size="20">10<tspan dy="-9.0" font-size="14">−8</tspan></text>
<text x="373.2" y="520" font-size="20" text-anchor="middle">Force (N)</text>
<text transform="translate(19.3 232.3) rotate(-90)" font-size="20" text-anchor="middle">Peak velocity ( ms<tspan dy="-8" font-size="14">−1</tspan><tspan dy="8">)</tspan></text>
<text x="614.2" y="366.2" font-size="14">6</text>
<text x="614.2" y="299.3" font-size="14">8</text>
<text x="614.2" y="247.4" font-size="14">10</text>
<text x="614.2" y="205.0" font-size="14">12</text>
<text x="426.2" y="432.8" font-size="14">10<tspan dy="-6.2" font-size="10">3</tspan></text>
<text x="557.6" y="432.8" font-size="14">10<tspan dy="-6.2" font-size="10">5</tspan></text>
<text x="486.3" y="434.2" font-size="14"><tspan font-style="italic">f</tspan><tspan dx="0.8" dy="3.5" font-size="10.5">0</tspan><tspan dx="1.2" dy="-3.5">, Hz</tspan></text>
<text transform="translate(650.2 303.6) rotate(-90)" font-size="14.3" letter-spacing="0.1" text-anchor="middle">Critical velocity ( mms<tspan dy="-6" font-size="10">−1</tspan><tspan dy="6">)</tspan></text>
</svg>
</body></html>
